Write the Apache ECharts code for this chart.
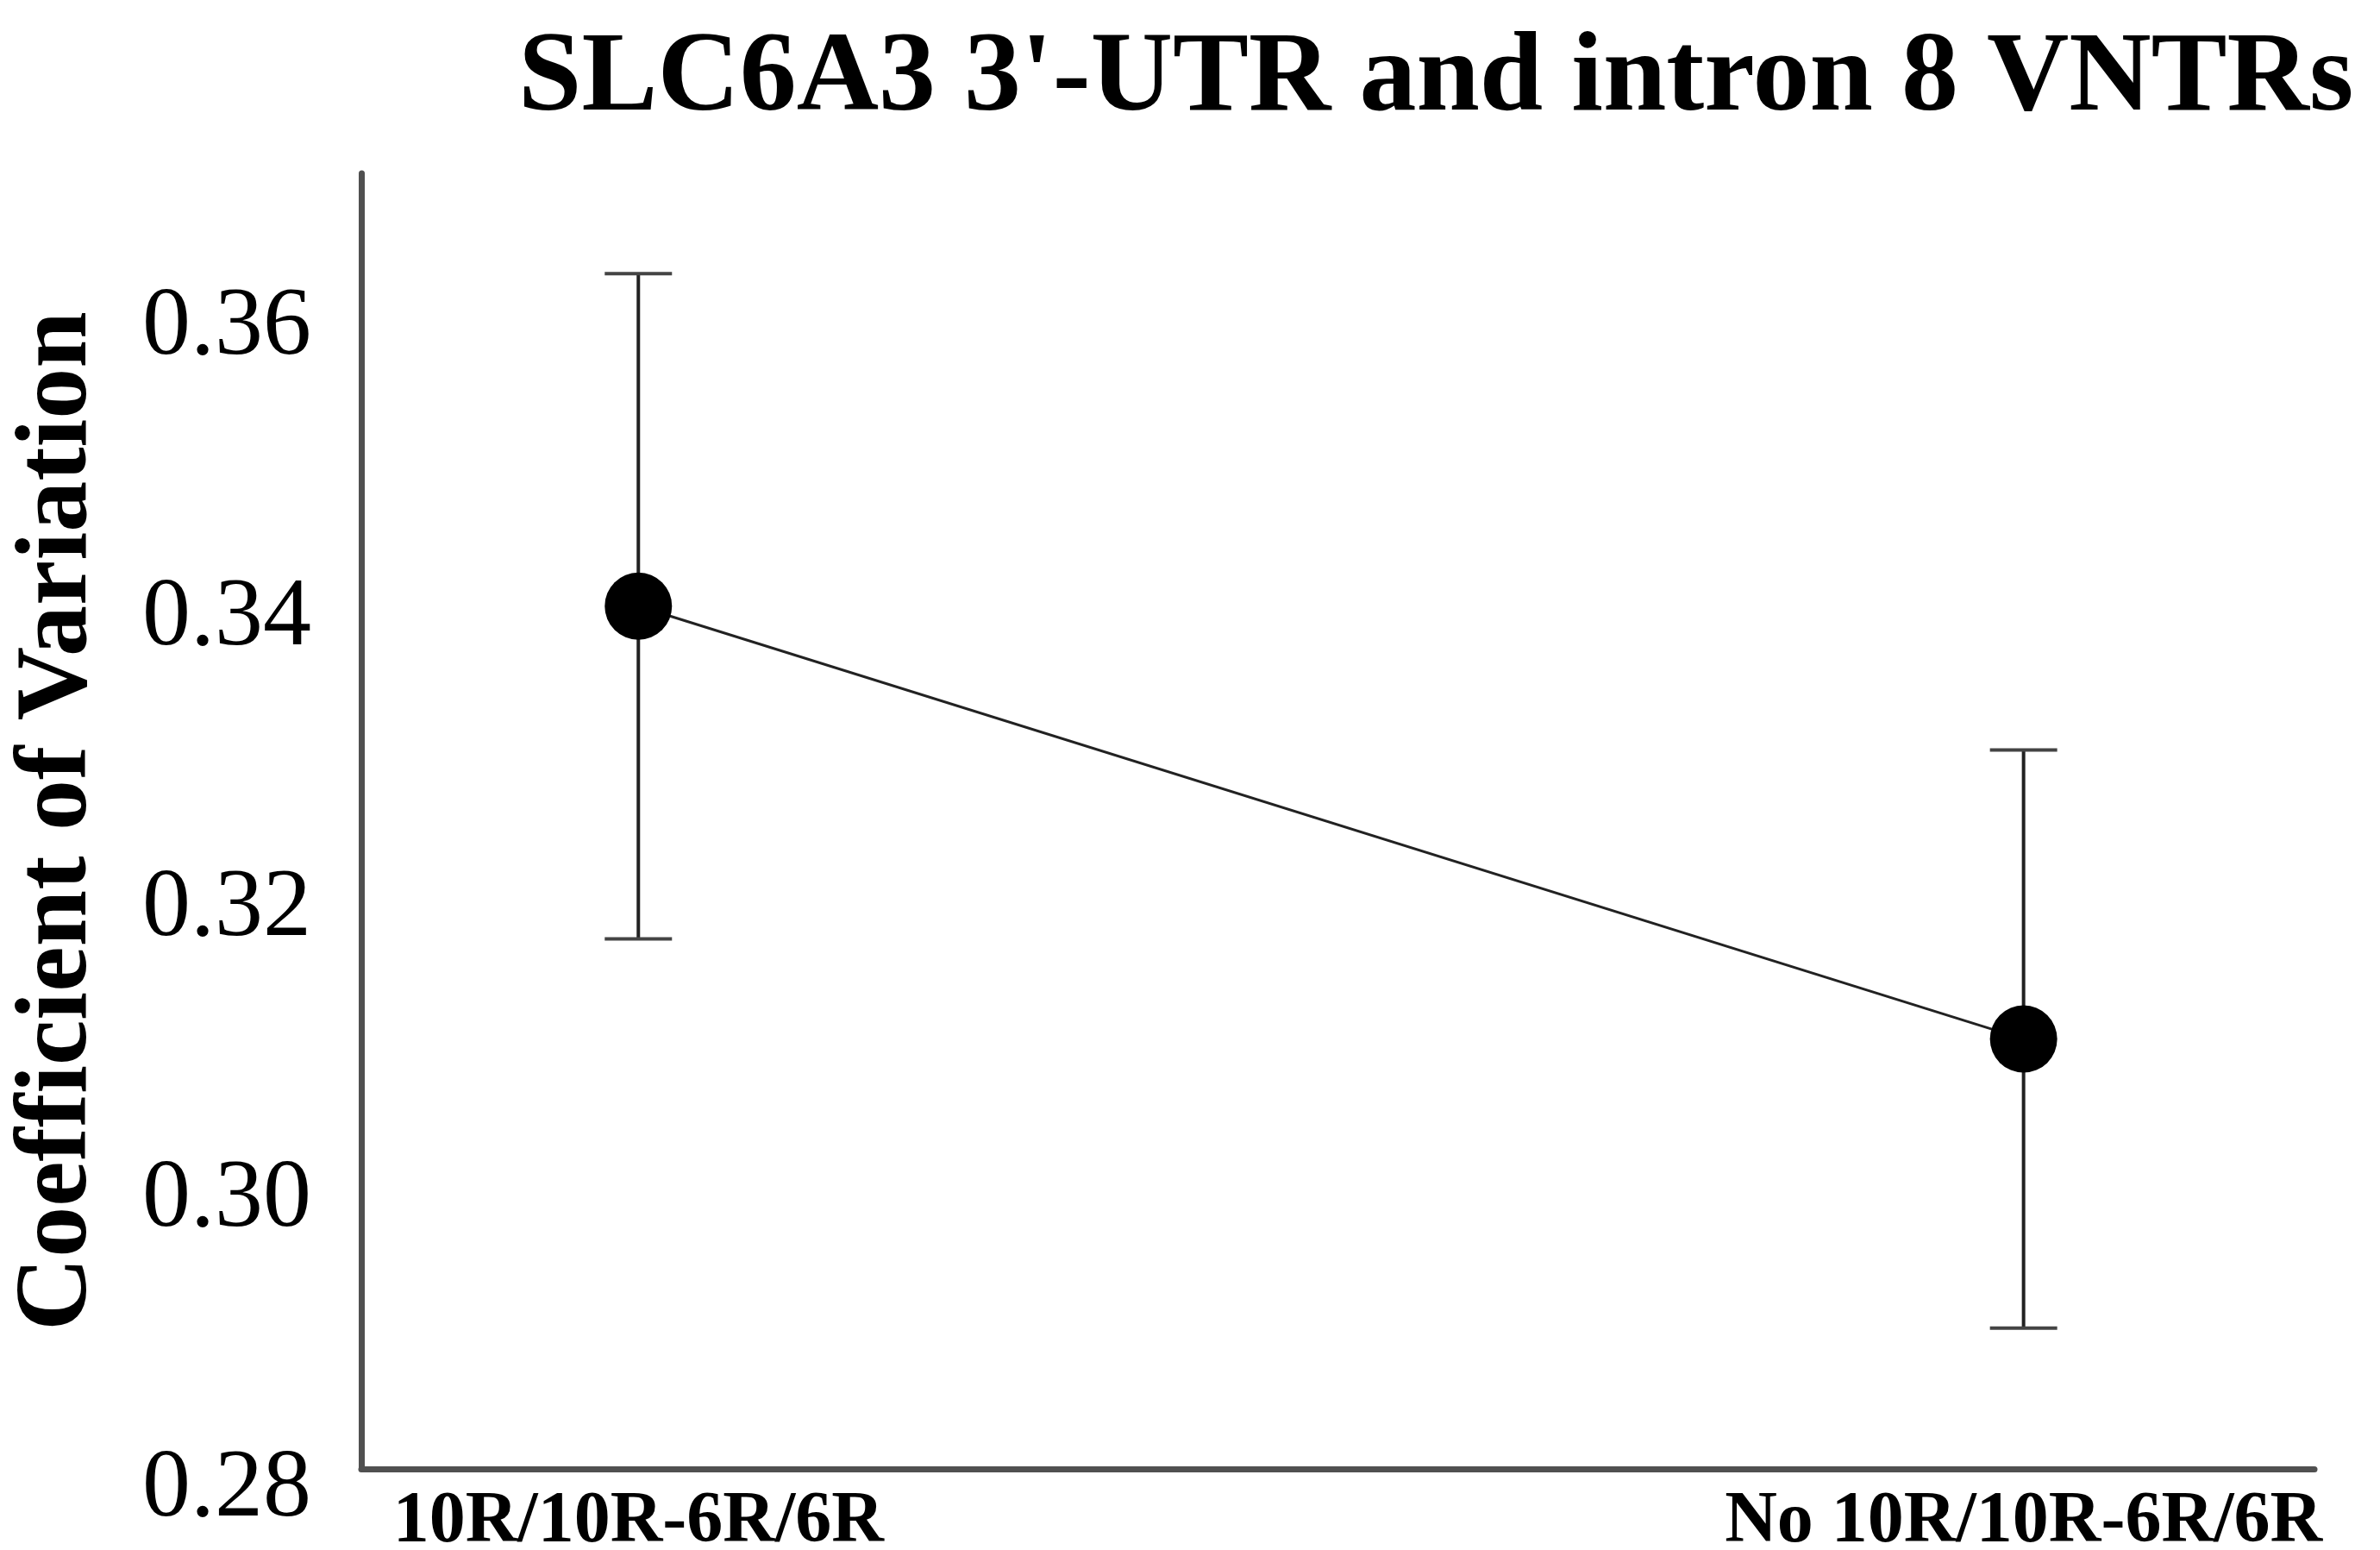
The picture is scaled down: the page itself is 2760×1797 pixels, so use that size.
<!DOCTYPE html>
<html>
<head>
<meta charset="utf-8">
<script src="https://cdn.jsdelivr.net/npm/echarts@6/dist/echarts.min.js"></script>
<style>
  html, body { margin: 0; padding: 0; background: #fff; }
  #chart { width: 2760px; height: 1797px; }
</style>
</head>
<body>
<div id="chart"></div>
<script>
// values
var categories = ['10R/10R-6R/6R', 'No 10R/10R-6R/6R'];
var means = [0.3394, 0.3096];
var lower = [0.3165, 0.2897];
var upper = [0.3623, 0.3295];
var yTicks = [0.28, 0.30, 0.32, 0.34, 0.36];

var serif = '"Liberation Serif", "Times New Roman", serif';

var pointData = means.map(function (m, i) { return [i, m]; });
var barData = means.map(function (m, i) { return [i, lower[i], upper[i]]; });

var myChart = echarts.init(document.getElementById('chart'));
var option = {
    backgroundColor: '#fff',
    animation: false,
    title: {
        text: "SLC6A3 3'-UTR and intron 8 VNTRs",
        left: 596,
        top: 22,
        textStyle: {
            fontFamily: serif,
            fontWeight: 'bold',
            fontSize: 132,
            color: '#000'
        }
    },
    grid: {
        left: 419,
        right: 76,
        top: 201,
        bottom: 94,
        outerBoundsMode: 'none'
    },
    xAxis: {
        type: 'value',
        min: -0.2,
        max: 1.21,
        splitLine: { show: false },
        axisTick: { show: false },
        axisLine: { show: true, onZero: false, lineStyle: { color: '#505050', width: 7 } },
        axisLabel: {
            customValues: [0, 1],
            margin: 20,
            fontFamily: serif,
            fontWeight: 'bold',
            fontSize: 84,
            color: '#000',
            formatter: function (v) { return categories[Math.round(v)]; }
        }
    },
    yAxis: {
        type: 'value',
        min: 0.28,
        max: 0.3692,
        name: 'Coefficient of Variation',
        nameLocation: 'middle',
        nameGap: 291,
        nameTextStyle: {
            fontFamily: serif,
            fontWeight: 'bold',
            fontSize: 118,
            color: '#000'
        },
        splitLine: { show: false },
        axisTick: { show: false },
        axisLine: { show: true, onZero: false, lineStyle: { color: '#505050', width: 7 } },
        axisLabel: {
            customValues: yTicks,
            margin: 58,
            verticalAlign: 'top',
            lineHeight: 50,
            fontFamily: serif,
            fontSize: 112,
            color: '#000',
            formatter: function (v) { return v.toFixed(2); }
        }
    },
    series: [
        {
            type: 'custom',
            data: barData,
            z: 2,
            renderItem: function (params, api) {
                var x = api.value(0);
                var lo = api.coord([x, api.value(1)]);
                var hi = api.coord([x, api.value(2)]);
                var half = 39;
                var st = { stroke: '#222', lineWidth: 4 };
                var capSt = { stroke: '#444', lineWidth: 4 };
                return {
                    type: 'group',
                    children: [
                        { type: 'line', shape: { x1: lo[0], y1: lo[1], x2: hi[0], y2: hi[1] }, style: st },
                        { type: 'line', shape: { x1: hi[0] - half, y1: hi[1], x2: hi[0] + half, y2: hi[1] }, style: capSt },
                        { type: 'line', shape: { x1: lo[0] - half, y1: lo[1], x2: lo[0] + half, y2: lo[1] }, style: capSt }
                    ]
                };
            }
        },
        {
            type: 'line',
            data: pointData,
            z: 3,
            symbol: 'circle',
            symbolSize: 78,
            itemStyle: { color: '#000' },
            lineStyle: { color: '#222', width: 3 }
        }
    ]
};
myChart.setOption(option);
</script>
</body>
</html>
